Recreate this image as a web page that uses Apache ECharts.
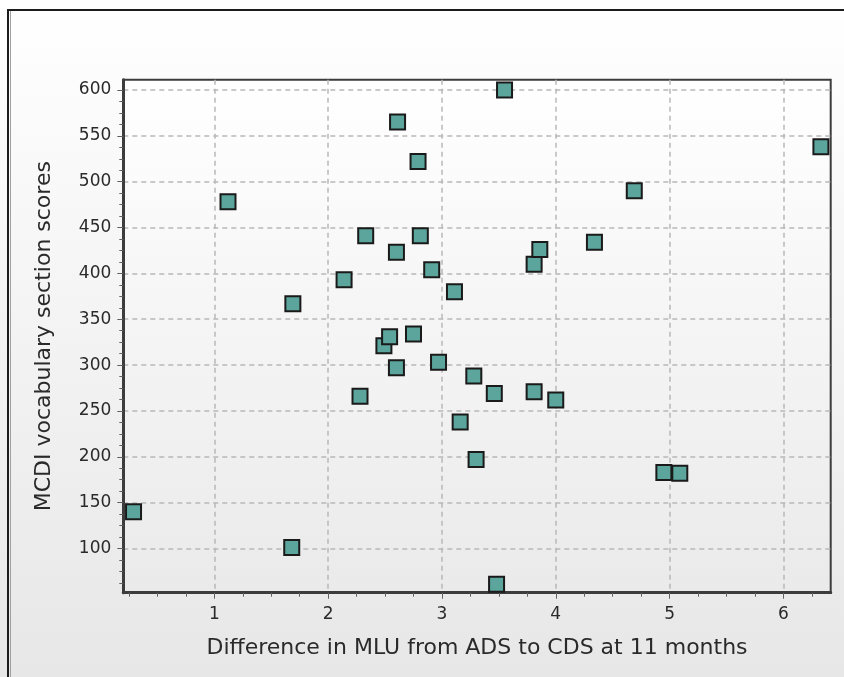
<!DOCTYPE html>
<html>
<head>
<meta charset="utf-8">
<script src="https://cdn.jsdelivr.net/npm/echarts@6/dist/echarts.min.js"></script>
<style>
html,body{margin:0;padding:0;background:#fff;}
#chart{width:844px;height:677px;}
</style>
</head>
<body>
<div id="chart"></div>
<script>
// ---- data ----
var xValues = [0.29,1.12,1.69,1.68,2.14,2.28,2.33,2.49,2.54,2.60,2.60,2.61,2.75,2.79,2.81,2.91,2.97,3.11,3.16,3.28,3.30,3.46,3.48,3.55,3.81,3.81,3.86,4.00,4.34,4.69,4.95,5.09,6.33];
var yValues = [140,478,367,101,393,266,441,321,331,423,297,565,334,522,441,404,303,380,238,288,197,269,61,600,271,410,426,262,434,490,183,182,538];
var xTicks = [1,2,3,4,5,6];
var yTicks = [100,150,200,250,300,350,400,450,500,550,600];
var xAxisTitle = 'Difference in MLU from ADS to CDS at 11 months';
var yAxisTitle = 'MCDI vocabulary section scores';
var xRange = [0.2, 6.416];
var yRange = [51.8, 611.2];

// minor ticks: quarters between major ticks
function minorTicks(major, parts, lo, hi){
  var step = (major[1]-major[0])/parts, out = [];
  var start = major[0] - Math.floor((major[0]-lo)/step)*step;
  for (var v = start; v <= hi + 1e-9; v += step){
    var r = Math.round(v*1000)/1000;
    var isMajor = major.some(function(m){return Math.abs(m-r)<1e-6;});
    if (!isMajor && r > lo && r < hi) out.push(r);
  }
  return out;
}
var xMinor = minorTicks(xTicks, 4, xRange[0], xRange[1]);
var yMinor = minorTicks(yTicks, 4, yRange[0], yRange[1]);

var points = xValues.map(function(x,i){return [x, yValues[i]];});

var FONT = 'DejaVu Sans';
var chart = echarts.init(document.getElementById('chart'), null, {renderer:'canvas'});
var gridLine = {show:true, lineStyle:{color:'#b8b8b8', width:1.5, type:[5,4]}};
chart.setOption({
  animation:false,
  graphic:[
    {type:'rect', z:-100, silent:true, shape:{x:0,y:0,width:844,height:677},
     style:{fill:new echarts.graphic.LinearGradient(0,0,0,1,[{offset:0,color:'#ffffff'},{offset:1,color:'#e7e7e7'}])}},
    {type:'rect', z:-90, silent:true, shape:{x:8,y:10,width:860,height:720},
     style:{fill:null, stroke:'#1c1c1c', lineWidth:2}},
    {type:'line', z:-90, silent:true, shape:{x1:10.5,y1:11,x2:10.5,y2:677},
     style:{stroke:'#a0a0a0', lineWidth:1}}
  ],
  grid:{left:123.3, right:844-830.7, top:79.7, bottom:677-592.7, show:true,
        borderColor:'#3c3c3c', borderWidth:2,
        backgroundColor:new echarts.graphic.LinearGradient(0,0,0,1,[{offset:0,color:'#ffffff'},{offset:1,color:'#eaeaea'}])},
  xAxis:[{
    type:'value', min:xRange[0], max:xRange[1],
    name:xAxisTitle, nameLocation:'middle', nameGap:45,
    nameTextStyle:{fontFamily:FONT, fontSize:22, color:'#2a2a2a'},
    axisLine:{show:true, onZero:false, lineStyle:{color:'#3c3c3c', width:3}},
    axisTick:{show:true, customValues:xTicks, length:6, lineStyle:{color:'#606060', width:1}},
    axisLabel:{customValues:xTicks, margin:13, fontFamily:FONT, fontSize:17, color:'#2a2a2a'},
    splitLine:gridLine
  },{
    type:'value', min:xRange[0], max:xRange[1], position:'bottom',
    axisLine:{show:false}, axisLabel:{show:false}, splitLine:{show:false},
    axisTick:{show:true, customValues:xMinor, length:4, lineStyle:{color:'#606060', width:1}}
  }],
  yAxis:[{
    type:'value', min:yRange[0], max:yRange[1],
    name:yAxisTitle, nameLocation:'middle', nameGap:68, nameRotate:90,
    nameTextStyle:{fontFamily:FONT, fontSize:22, color:'#2a2a2a'},
    axisLine:{show:true, onZero:false, lineStyle:{color:'#3c3c3c', width:3}},
    axisTick:{show:true, customValues:yTicks, length:6, lineStyle:{color:'#606060', width:1}},
    axisLabel:{customValues:yTicks, margin:12, fontFamily:FONT, fontSize:17, color:'#2a2a2a'},
    splitLine:gridLine
  },{
    type:'value', min:yRange[0], max:yRange[1], position:'left',
    axisLine:{show:false}, axisLabel:{show:false}, splitLine:{show:false},
    axisTick:{show:true, customValues:yMinor, length:4, lineStyle:{color:'#606060', width:1}}
  }],
  series:[{
    type:'scatter', xAxisIndex:0, yAxisIndex:0, data:points,
    symbol:'rect', symbolSize:15,
    itemStyle:{color:'#5ba59c', borderColor:'#1a1a1a', borderWidth:2, opacity:1},
    clip:false
  }]
});
</script>
</body>
</html>
